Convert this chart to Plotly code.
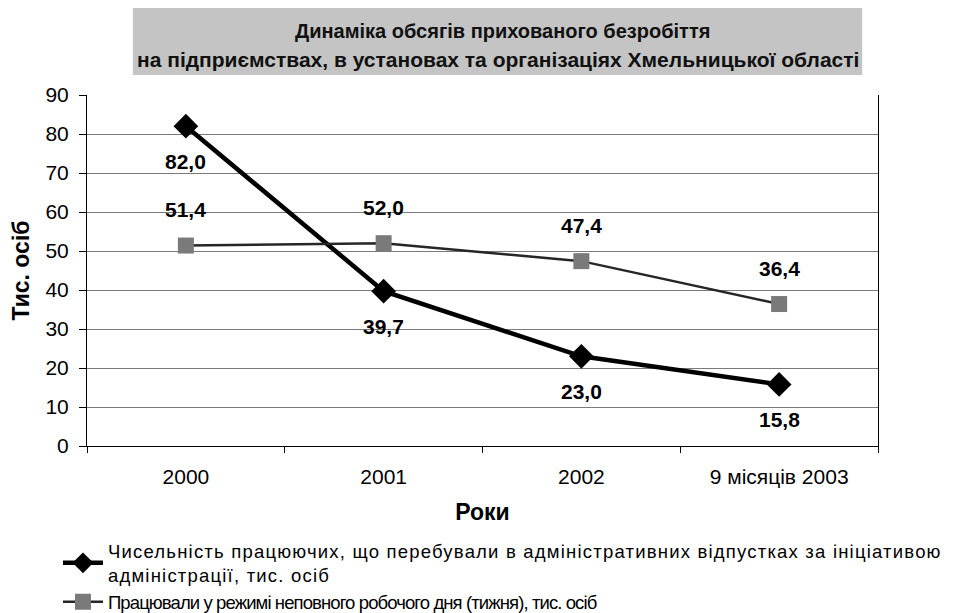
import plotly.graph_objects as go

categories = ["2000", "2001", "2002", "9 місяців 2003"]
admin_leave = [82.0, 39.7, 23.0, 15.8]
part_time = [51.4, 52.0, 47.4, 36.4]
y_ticks = [0, 10, 20, 30, 40, 50, 60, 70, 80, 90]

name1 = ("<span style=\"letter-spacing:1.2px\">Чисельність працюючих, що перебували в адміністративних "
         "відпустках за ініціативою</span><br>"
         "<span style=\"letter-spacing:1.2px\">адміністрації, тис. осіб</span>")
name2 = "<span style=\"letter-spacing:-0.9px\">Працювали у режимі неповного робочого дня (тижня), тис. осіб</span>"

SANS = "Liberation Sans, Arial, sans-serif"

fig = go.Figure()
fig.add_trace(go.Scatter(
    x=categories, y=admin_leave, name=name1, mode="lines+markers",
    line=dict(color="#000000", width=4.5),
    marker=dict(symbol="diamond", size=19, color="#000000"),
))
fig.add_trace(go.Scatter(
    x=categories, y=part_time, name=name2, mode="lines+markers",
    line=dict(color="#262626", width=2.5),
    marker=dict(symbol="square", size=16, color="#7a7a7a"),
))

def fmt(v):
    return f"{v:.1f}".replace(".", ",")

annotations = []
for i, v in enumerate(admin_leave):
    annotations.append(dict(x=i, y=v, xref="x", yref="y", text=f"<b>{fmt(v)}</b>", showarrow=False,
                            yshift=-35, font=dict(family=SANS, size=21, color="#000")))
for i, v in enumerate(part_time):
    annotations.append(dict(x=i, y=v, xref="x", yref="y", text=f"<b>{fmt(v)}</b>", showarrow=False,
                            yshift=36, font=dict(family=SANS, size=21, color="#000")))

annotations.append(dict(xref="paper", yref="paper", x=0.525, y=1.182, xanchor="center", yanchor="middle",
                        text="<b>Динаміка обсягів прихованого безробіття</b>",
                        showarrow=False, font=dict(family=SANS, size=20, color="#111")))
annotations.append(dict(xref="paper", yref="paper", x=0.52, y=1.101, xanchor="center", yanchor="middle",
                        text="<b>на підприємствах, в установах та організаціях Хмельницької області</b>",
                        showarrow=False, font=dict(family=SANS, size=21, color="#111")))

fig.update_layout(
    width=948, height=605,
    margin=dict(l=79, r=78, t=87, b=167),
    paper_bgcolor="white", plot_bgcolor="white",
    showlegend=True,
    legend=dict(x=-0.0367, xref="paper", y=0.1335, yref="container",
                xanchor="left", yanchor="top",
                font=dict(family=SANS, size=18.5, color="#000"),
                tracegroupgap=0, bgcolor="rgba(0,0,0,0)", itemwidth=40),
    annotations=annotations,
    shapes=[dict(type="rect", xref="paper", yref="paper",
                 x0=0.058, x1=0.98, y0=1.057, y1=1.248,
                 fillcolor="#c4c4c4", line=dict(width=0), layer="below")],
    xaxis=dict(type="category", categoryorder="array", categoryarray=categories,
               range=[-0.5, 3.5], automargin=False,
               showline=True, linecolor="#000", linewidth=1,
               ticks="outside", tickson="boundaries", ticklen=6, tickcolor="#000",
               showgrid=False, tickangle=0, ticklabelstandoff=12,
               tickfont=dict(family=SANS, size=21, color="#000"),
               title=dict(text="<b>Роки</b>", font=dict(family=SANS, size=23, color="#000"), standoff=16)),
    yaxis=dict(range=[0, 90], tickvals=y_ticks, ticktext=[str(t) for t in y_ticks],
               automargin=False,
               showline=True, linecolor="#000", linewidth=1, mirror=True,
               ticks="outside", ticklen=7, tickcolor="#000", ticklabelstandoff=6,
               showgrid=True, gridcolor="#7a7a7a", gridwidth=1, zeroline=False,
               tickfont=dict(family=SANS, size=21, color="#000"),
               title=dict(text="<b>Тис. осіб</b>", font=dict(family=SANS, size=23, color="#000"), standoff=10)),
)

fig.write_html("out.html")
